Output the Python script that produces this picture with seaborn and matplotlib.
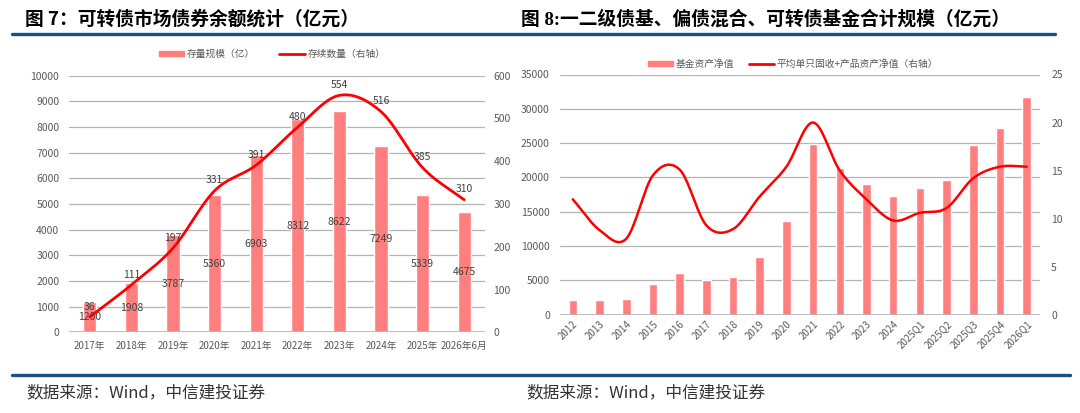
import numpy as np
import pandas as pd
import seaborn as sns
import matplotlib
matplotlib.use("Agg")
import matplotlib.pyplot as plt
from matplotlib.lines import Line2D
from matplotlib.patches import Patch

# ---- data: chart 7 ----
years7 = ['2017年', '2018年', '2019年', '2020年', '2021年', '2022年', '2023年', '2024年', '2025年', '2026年6月']
stock7 = [1200, 1908, 3787, 5360, 6903, 8312, 8622, 7249, 5339, 4675]
count7 = [36, 111, 197, 331, 391, 480, 554, 516, 385, 310]

# ---- data: chart 8 ----
periods8 = ['2012', '2013', '2014', '2015', '2016', '2017', '2018', '2019', '2020', '2021', '2022', '2023',
            '2024', '2025Q1', '2025Q2', '2025Q3', '2025Q4', '2026Q1']
nav8 = [2100, 2100, 2280, 4420, 6020, 5000, 5530, 8450, 13600, 24800, 21300, 19030,
        17230, 18400, 19610, 24760, 27140, 31650]
avg8 = [12.0, 8.8, 7.9, 14.5, 15.1, 9.3, 8.9, 12.3, 15.4, 20.0, 15.0, 12.0,
        9.8, 10.6, 11.1, 14.2, 15.4, 15.4]

sns.set_theme(style="white")
plt.rcParams['font.family'] = ['Noto Sans CJK SC', 'DejaVu Sans']

BAR = '#FF7F7F'
LINE = '#FF0000'
GRID = '#B4B4B4'
TXT = '#595959'
BLUE = '#1B4F80'
W, H = 1080, 413


def smooth(y, steps=20):
    # Catmull-Rom curve through the points (like Excel's smoothed line)
    y = np.asarray(y, float)
    n = len(y)
    p = np.concatenate([[2 * y[0] - y[1]], y, [2 * y[-1] - y[-2]]])
    xs, ys = [], []
    for i in range(n - 1):
        p0, p1, p2, p3 = p[i], p[i + 1], p[i + 2], p[i + 3]
        t = np.linspace(0, 1, steps, endpoint=False)
        yy = 0.5 * ((2 * p1) + (-p0 + p2) * t + (2 * p0 - 5 * p1 + 4 * p2 - p3) * t ** 2
                    + (-p0 + 3 * p1 - 3 * p2 + p3) * t ** 3)
        xs.extend(i + t)
        ys.extend(yy)
    xs.append(n - 1)
    ys.append(y[-1])
    return np.array(xs), np.array(ys)


def style_axes(ax, ax2):
    for a in (ax, ax2):
        for s in a.spines.values():
            s.set_visible(False)
        a.tick_params(length=0, colors=TXT, labelsize=7.5)
    ax.grid(axis='y', color=GRID, linewidth=0.9)
    ax.set_axisbelow(True)
    ax.set_xlabel('')
    ax.set_ylabel('')
    ax2.set_ylabel('')


fig = plt.figure(figsize=(W / 100, H / 100), dpi=100)

# ---------------- chart 7 ----------------
ax = fig.add_axes([69 / W, 1 - 332.3 / H, (485 - 69) / W, (332.3 - 75.7) / H])
df7 = pd.DataFrame({'year': years7, 'stock': stock7, 'count': count7})
sns.barplot(data=df7, x='year', y='stock', ax=ax, color=BAR, saturation=1, width=0.32)
ax.set_ylim(0, 10000)
ax.set_yticks(range(0, 10001, 1000))
ax.set_xlim(-0.5, len(years7) - 0.5)
ax2 = ax.twinx()
sx, sy = smooth(count7)
sns.lineplot(x=sx, y=sy, ax=ax2, color=LINE, linewidth=2.0, sort=False, estimator=None)
ax2.set_ylim(0, 600)
ax2.set_yticks(range(0, 601, 100))
style_axes(ax, ax2)
ax.tick_params(axis='y', pad=7)
ax.tick_params(axis='x', labelsize=7, pad=6)
ax2.tick_params(axis='y', pad=6)
ax.axhline(0, color=GRID, linewidth=1.2)
for i, v in enumerate(stock7):
    ax.text(i, v / 2, str(v), ha='center', va='center', fontsize=7.5, color='#404040')
for i, v in enumerate(count7):
    ax2.text(i, v + 24, str(v), ha='center', va='center', fontsize=7.5, color='#404040')
fig.legend(handles=[Patch(color=BAR), Line2D([], [], color=LINE, lw=2)],
           labels=['存量规模（亿）', '存续数量（右轴）'], ncol=2, frameon=False,
           loc='center', bbox_to_anchor=(272 / W, 1 - 54 / H), fontsize=7,
           labelcolor=TXT, handlelength=2.6, handleheight=0.5, columnspacing=2.5, handletextpad=0.3)

# ---------------- chart 8 ----------------
bx = fig.add_axes([559.5 / W, 1 - 314.6 / H, (1040 - 559.5) / W, (314.6 - 74.5) / H])
df8 = pd.DataFrame({'period': periods8, 'nav': nav8, 'avg': avg8})
sns.barplot(data=df8, x='period', y='nav', ax=bx, color=BAR, saturation=1, width=0.32)
bx.set_ylim(0, 35000)
bx.set_yticks(range(0, 35001, 5000))
bx.set_xlim(-0.5, len(periods8) - 0.5)
bx2 = bx.twinx()
sx, sy = smooth(avg8)
sns.lineplot(x=sx, y=sy, ax=bx2, color=LINE, linewidth=1.8, sort=False, estimator=None)
bx2.set_ylim(0, 25)
bx2.set_yticks(range(0, 26, 5))
style_axes(bx, bx2)
bx.tick_params(axis='y', pad=7)
bx2.tick_params(axis='y', pad=8)
bx.axhline(0, color=GRID, linewidth=1.2)
plt.setp(bx.get_xticklabels(), rotation=45, ha='right', rotation_mode='anchor', fontsize=7)
bx.tick_params(axis='x', pad=3)
fig.legend(handles=[Patch(color=BAR), Line2D([], [], color=LINE, lw=2)],
           labels=['基金资产净值', '平均单只固收+产品资产净值（右轴）'], ncol=2, frameon=False,
           loc='center', bbox_to_anchor=(793 / W, 1 - 64 / H), fontsize=7,
           labelcolor=TXT, handlelength=2.6, handleheight=0.5, columnspacing=1.5, handletextpad=0.3)

# ---------------- titles, rules, source ----------------
fig.text(25 / W, 1 - 19 / H, '图 7：可转债市场债券余额统计（亿元）', fontsize=13.5,
         fontweight='bold', va='center', ha='left', color='#000000')
fig.text(521 / W, 1 - 19 / H, '图 8:一二级债基、偏债混合、可转债基金合计规模（亿元）', fontsize=13.5,
         fontweight='bold', va='center', ha='left', color='#000000',
         family=['Liberation Serif', 'Noto Sans CJK SC'])
fig.add_artist(Line2D([12 / W, 1055 / W], [1 - 34 / H] * 2, color=BLUE, lw=2.4))
fig.add_artist(Line2D([12 / W, 1070 / W], [1 - 374.7 / H] * 2, color=BLUE, lw=2.4))
fig.text(26 / W, 1 - 393 / H, '数据来源：Wind，中信建投证券', fontsize=12, va='center',
         ha='left', color='#333333', style='italic')
fig.text(526 / W, 1 - 393 / H, '数据来源：Wind，中信建投证券', fontsize=12, va='center',
         ha='left', color='#333333', style='italic')

fig.savefig('out.png', dpi=100)
